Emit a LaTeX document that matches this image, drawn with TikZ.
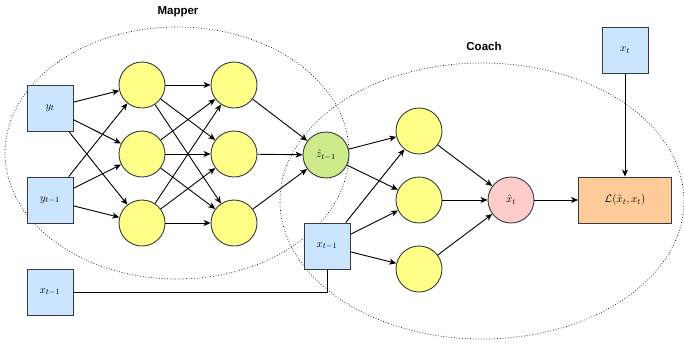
\documentclass[tikz,border=0pt]{standalone}
\usepackage{fontspec}
\newfontfamily\labfont{Liberation Sans}
\usetikzlibrary{arrows.meta}
\definecolor{yel}{HTML}{FFFF88}
\definecolor{blu}{HTML}{CCE5FF}
\definecolor{grn}{HTML}{CDEB8B}
\definecolor{pnk}{HTML}{FFCCCC}
\definecolor{org}{HTML}{FFCC99}
\definecolor{strk}{HTML}{36393D}
\tikzset{
  neuron/.style={circle, draw=strk, line width=0.9pt, minimum size=46pt, inner sep=0pt, font=\fontsize{11}{13}\selectfont},
  inbox/.style={rectangle, draw=strk, line width=0.9pt, fill=blu, minimum size=46pt, inner sep=0pt, font=\fontsize{11}{13}\selectfont},
  arr/.style={-{Stealth[length=7pt,width=6pt,inset=2pt]}, line width=0.9pt},
  plain/.style={line width=0.9pt},
  group/.style={dotted, line width=0.7pt},
  title/.style={font=\labfont\bfseries\fontsize{11.5}{13}\selectfont}
}
\begin{document}
\begin{tikzpicture}[x=1pt,y=-1pt]
\useasboundingbox (0,0) rectangle (684,343);
% groups
\draw[group] (177,153) ellipse [x radius=172pt, y radius=126pt];
\draw[group] (482,201) ellipse [x radius=202pt, y radius=138pt];
\node[title] (mapper) at (178,12) {Mapper};
\node[title] (coach) at (484,46) {Coach};
% inputs
\node[inbox] (yt) at (50,108) {$y_t$};
\node[inbox] (ytm) at (50,200) {$y_{t-1}$};
\node[inbox] (xl) at (50,292) {$x_{t-1}$};
\node[inbox] (xr) at (327,246) {$x_{t-1}$};
\node[inbox] (xt) at (625,50) {$x_t$};
% mapper layers
\foreach \i/\y in {1/85,2/154,3/223}{
  \node[neuron, fill=yel] (a\i) at (142,\y) {};
  \node[neuron, fill=yel] (b\i) at (234,\y) {};
}
\node[neuron, fill=grn] (z) at (326,155) {$\hat{z}_{t-1}$};
% coach layer
\node[neuron, fill=yel] (c1) at (419,131) {};
\node[neuron, fill=yel] (c2) at (419,200) {};
\node[neuron, fill=yel] (c3) at (419,269) {};
\node[neuron, fill=pnk] (xh) at (511,200) {$\hat{x}_t$};
\node[rectangle, draw=strk, line width=0.9pt, fill=org, minimum width=93pt, minimum height=46pt, font=\fontsize{11}{13}\selectfont] (L) at (625,200) {$\mathcal{L}(\hat{x}_t,x_t)$};
% connections
\foreach \i in {1,2,3}{
  \draw[arr] (yt) -- (a\i);
  \draw[arr] (ytm) -- (a\i);
  \foreach \j in {1,2,3}{ \draw[arr] (a\i) -- (b\j); }
  \draw[arr] (b\i) -- (z);
  \draw[arr] (xr) -- (c\i);
  \draw[arr] (c\i) -- (xh);
}
\draw[arr] (z) -- (c1);
\draw[arr] (z) -- (c2);
\draw[arr] (xh) -- (L);
\draw[arr] (xt) -- (L);
\draw[plain] (xl.east) -- (xr.south |- xl.east) -- (xr.south);
\end{tikzpicture}
\end{document}
